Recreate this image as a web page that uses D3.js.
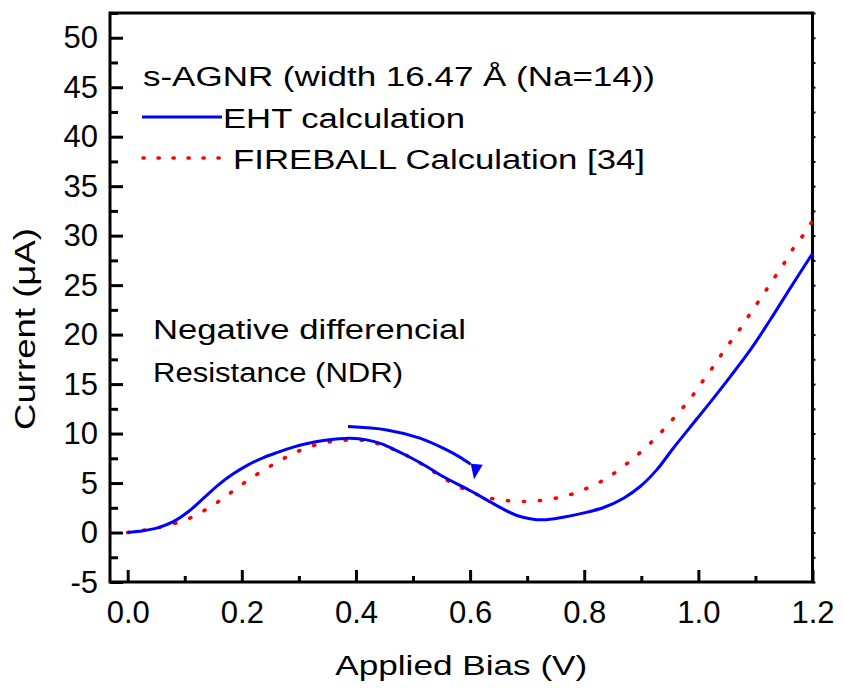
<!DOCTYPE html>
<html>

<head>
  <meta charset="utf-8">
  <script src="https://d3js.org/d3.v7.min.js"></script>
  <title>s-AGNR I-V</title>
  <style>
    body {
      margin: 0px;
      background: white;
    }

    text {
      font-family: "Liberation Sans", Arial, sans-serif;
      fill: #000;
    }

    .tick text {
      font-size: 31px;
    }

    .domain {
      display: none;
    }
  </style>
</head>

<body>
  <svg width="843" height="689"></svg>
  <script>
    // EHT calculation (blue solid)
    const ehtBias = [0, 0.027, 0.054, 0.08, 0.106, 0.133, 0.159, 0.185, 0.211, 0.238, 0.264, 0.29, 0.317, 0.343,
      0.37, 0.39, 0.419, 0.445, 0.471, 0.498, 0.524, 0.55, 0.577, 0.603, 0.629, 0.655, 0.682, 0.705, 0.728,
      0.763, 0.798, 0.834, 0.869, 0.898, 0.927, 0.956, 0.985, 1.02, 1.056, 1.091, 1.126, 1.161, 1.2];
    const ehtCurrent = [0, 0.18, 0.5, 1.1, 2.1, 3.47, 4.82, 5.93, 6.84, 7.58, 8.12, 8.63, 9.03, 9.3,
      9.48, 9.53, 9.36, 8.96, 8.28, 7.51, 6.67, 5.73, 4.92, 4.14, 3.3, 2.46, 1.72, 1.4, 1.28,
      1.55, 1.96, 2.53, 3.47, 4.65, 6.33, 8.52, 10.6, 13.1, 15.76, 18.45, 21.5, 24.7, 28.2];

    // FIREBALL calculation [34] (red dotted)
    const fbBias = [0, 0.027, 0.054, 0.08, 0.106, 0.133, 0.159, 0.185, 0.211, 0.238, 0.264, 0.289, 0.315, 0.341,
      0.366, 0.393, 0.419, 0.445, 0.471, 0.498, 0.524, 0.549, 0.575, 0.602, 0.627, 0.654, 0.68, 0.706, 0.731,
      0.758, 0.784, 0.81, 0.837, 0.862, 0.888, 0.914, 0.939, 0.962, 0.985, 1.003, 1.022, 1.04, 1.058, 1.077,
      1.094, 1.112, 1.129, 1.147, 1.165, 1.184, 1.2];
    const fbCurrent = [0, 0.22, 0.5, 0.88, 1.38, 2.19, 3.13, 4.21, 5.29, 6.3, 7.17, 7.95, 8.59, 9.03,
      9.26, 9.36, 9.26, 8.86, 8.28, 7.51, 6.6, 5.66, 4.79, 4.08, 3.57, 3.3, 3.17, 3.15, 3.3,
      3.57, 3.98, 4.62, 5.39, 6.4, 7.58, 8.93, 10.4, 11.9, 13.45, 14.92, 16.43, 17.95, 19.4, 20.9,
      22.4, 23.9, 25.4, 26.9, 28.6, 30.07, 31.5];

    // NDR arrow (data coords)
    const arrowPts = [[0.386, 10.71], [0.454, 10.37], [0.512, 9.54], [0.559, 8.35], [0.582, 7.62], [0.594, 7.17], [0.601, 6.91]];
    const arrowHead = [[0.6011, 6.95], [0.6222, 6.85], [0.6069, 5.39]];

    const xTicks = [0, 0.2, 0.4, 0.6, 0.8, 1.0, 1.2];
    const xMinor = [0.1, 0.3, 0.5, 0.7, 0.9, 1.1];
    const yTicks = [-5, 0, 5, 10, 15, 20, 25, 30, 35, 40, 45, 50];
    const yMinor = [-2.5, 2.5, 7.5, 12.5, 17.5, 22.5, 27.5, 32.5, 37.5, 42.5, 47.5, 52.5];

    const xLabel = 'Applied Bias (V)';
    const yLabel = 'Current (\u03bcA)';
    const titleLabel = 's-AGNR (width 16.47 \u00c5 (Na=14))';
    const ehtLabel = 'EHT calculation';
    const fbLabel = 'FIREBALL Calculation [34]';
    const ndrLabel = ['Negative differencial', 'Resistance (NDR)'];

    const margin = { left: 110, right: 30.5, top: 13, bottom: 107 };
    const svg = d3.select('svg');
    const width = +svg.attr('width');
    const height = +svg.attr('height');
    const innerWidth = width - margin.left - margin.right;
    const innerHeight = height - margin.top - margin.bottom;

    const g = svg.append('g')
      .attr('transform', `translate(${margin.left},${margin.top})`);

    const xScale = d3.scaleLinear().domain([-0.031, 1.2]).range([0, innerWidth]);
    const yScale = d3.scaleLinear().domain([-5, 52.5]).range([innerHeight, 0]);

    // stretch text to the width seen in the figure
    const fit = (sel, len) => sel.attr('textLength', len).attr('lengthAdjust', 'spacingAndGlyphs');

    // axes (ticks point inward)
    const allX = xTicks.concat(xMinor).sort((a, b) => a - b);
    const xAxisG = g.append('g')
      .attr('transform', `translate(0,${innerHeight})`)
      .call(d3.axisBottom(xScale)
        .tickValues(allX)
        .tickSize(-12)
        .tickPadding(19)
        .tickFormat(d => xTicks.includes(d) ? d3.format('.1f')(d) : ''));
    xAxisG.selectAll('.tick line')
      .attr('y2', d => xTicks.includes(d) ? -12 : -6)
      .attr('stroke', '#000').attr('stroke-width', 3);
    xAxisG.selectAll('.tick').filter(d => !xTicks.includes(d)).select('text').remove();

    const allY = yTicks.concat(yMinor).sort((a, b) => a - b);
    const yAxisG = g.append('g')
      .call(d3.axisLeft(yScale)
        .tickValues(allY)
        .tickSize(-13)
        .tickPadding(12)
        .tickFormat(d => yTicks.includes(d) ? d : ''));
    yAxisG.selectAll('.tick line')
      .attr('x2', d => yTicks.includes(d) ? 13 : 8)
      .attr('stroke', '#000').attr('stroke-width', 3);
    yAxisG.selectAll('.tick text').attr('dy', '0.33em');
    yAxisG.selectAll('.tick').filter(d => !yTicks.includes(d)).select('text').remove();

    const rAxisG = g.append('g')
      .attr('transform', `translate(${innerWidth},0)`)
      .call(d3.axisRight(yScale).tickValues(allY).tickSize(3).tickFormat(''));
    rAxisG.selectAll('.tick line').attr('stroke', '#000').attr('stroke-width', 2);
    rAxisG.selectAll('.tick text').remove();

    // frame
    g.append('rect')
      .attr('width', innerWidth)
      .attr('height', innerHeight)
      .attr('fill', 'none')
      .attr('stroke', '#000')
      .attr('stroke-width', 3);

    // curves
    const line = d3.line()
      .x(d => xScale(d[0]))
      .y(d => yScale(d[1]))
      .curve(d3.curveCatmullRom);

    const fbData = fbBias.map((v, i) => [v, fbCurrent[i]]);
    const ehtData = ehtBias.map((v, i) => [v, ehtCurrent[i]]);

    g.append('path')
      .datum(fbData)
      .attr('d', line)
      .attr('fill', 'none')
      .attr('stroke', '#ff0000')
      .attr('stroke-width', 3.6)
      .attr('stroke-linecap', 'round')
      .attr('stroke-dasharray', '1.2 14.8');

    g.append('path')
      .datum(ehtData)
      .attr('d', line)
      .attr('fill', 'none')
      .attr('stroke', '#0000ff')
      .attr('stroke-width', 3);

    // arrow
    g.append('path')
      .datum(arrowPts)
      .attr('d', line)
      .attr('fill', 'none')
      .attr('stroke', '#0000ff')
      .attr('stroke-width', 3);
    g.append('polygon')
      .attr('points', arrowHead.map(d => [xScale(d[0]), yScale(d[1])].join(',')).join(' '))
      .attr('fill', '#0000ff');

    // legend
    svg.append('text').attr('x', 143).attr('y', 86)
      .style('font-size', '27px').text(titleLabel).call(fit, 512);

    svg.append('line')
      .attr('x1', 142).attr('x2', 222).attr('y1', 117).attr('y2', 117)
      .attr('stroke', '#0000ff').attr('stroke-width', 3);
    svg.append('text').attr('x', 223).attr('y', 128)
      .style('font-size', '27px').text(ehtLabel).call(fit, 242);

    svg.append('line')
      .attr('x1', 143).attr('x2', 221).attr('y1', 158).attr('y2', 158)
      .attr('stroke', '#ff0000').attr('stroke-width', 3.6)
      .attr('stroke-linecap', 'round')
      .attr('stroke-dasharray', '1.2 13.8');
    svg.append('text').attr('x', 233).attr('y', 169)
      .style('font-size', '27px').text(fbLabel).call(fit, 412);

    // NDR annotation
    svg.append('text').attr('x', 153).attr('y', 339)
      .style('font-size', '27px').text(ndrLabel[0]).call(fit, 313);
    svg.append('text').attr('x', 153).attr('y', 382)
      .style('font-size', '27px').text(ndrLabel[1]).call(fit, 250);

    // axis titles
    svg.append('text')
      .attr('x', margin.left + innerWidth / 2)
      .attr('y', 675)
      .style('font-size', '28px')
      .style('text-anchor', 'middle')
      .text(xLabel).call(fit, 252);

    svg.append('text')
      .attr('transform', 'translate(35,329) rotate(-90)')
      .style('font-size', '29px')
      .style('text-anchor', 'middle')
      .text(yLabel).call(fit, 202);
  </script>
</body>

</html>
